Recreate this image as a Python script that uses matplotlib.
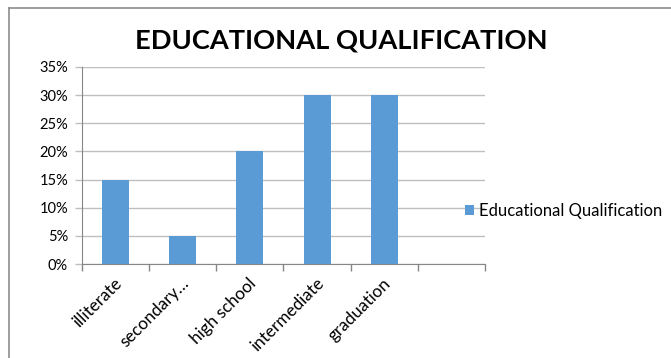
import matplotlib
matplotlib.use("Agg")
import matplotlib.pyplot as plt
import matplotlib.transforms as mtransforms
from matplotlib.lines import Line2D
from matplotlib.ticker import FuncFormatter, MultipleLocator

plt.rcParams['font.family'] = ['Lato', 'DejaVu Sans']

categories = ["illiterate", "secondary…", "high school", "intermediate", "graduation", ""]
values = [15, 5, 20, 30, 30, None]
series_name = "Educational Qualification"
title = "EDUCATIONAL QUALIFICATION"

W, H = 671, 358
fig = plt.figure(figsize=(W / 100, H / 100), dpi=100)
ax = fig.add_axes([82 / W, 1 - 264 / H, (485 - 82) / W, (264 - 67) / H])

bar_color = "#5b9bd5"
xs = list(range(len(categories)))
vals = [v if v is not None else 0 for v in values]
bars = ax.bar(xs, vals, width=0.4, color=bar_color, zorder=3, label=series_name)

ax.set_xlim(-0.5, len(categories) - 0.5)
ax.set_ylim(0, 35)
ax.yaxis.set_major_locator(MultipleLocator(5))
ax.yaxis.set_major_formatter(FuncFormatter(lambda v, p: f"{v:.0f}%"))
ax.yaxis.grid(True, color="#bfbfbf", linewidth=1, zorder=0)
ax.set_axisbelow(True)

ax.set_xticks([x - 0.5 for x in xs] + [len(categories) - 0.5])
ax.set_xticklabels([])
ax.set_xticks(xs, minor=True)
ax.set_xticklabels(categories, minor=True, rotation=45, ha="right", va="center",
                   rotation_mode="anchor", fontsize=12.3, color="#000000")
ax.tick_params(axis="x", which="minor", length=0, pad=12)
ax.tick_params(axis="x", which="major", length=5, color="#868686", width=1)
ax.tick_params(axis="y", length=5, color="#bfbfbf", width=1, labelsize=10.5, pad=5)

offset = mtransforms.ScaledTranslation(4 / 100, 0, fig.dpi_scale_trans)
for lbl in ax.xaxis.get_minorticklabels():
    lbl.set_transform(lbl.get_transform() + offset)

for s in ["top", "right"]:
    ax.spines[s].set_visible(False)
ax.spines["left"].set_color("#868686")
ax.spines["bottom"].set_color("#868686")

fig.text(341 / W, 1 - 40 / H, title, ha="center", va="center",
         fontsize=19.6, fontweight="bold", color="#000000")

fig.legend(handles=[bars], labels=[series_name], loc="center left",
           bbox_to_anchor=(465 / W, 1 - 211 / H), frameon=False,
           handlelength=0.55, handleheight=0.55, handletextpad=0.3,
           fontsize=12, borderaxespad=0, borderpad=0)

# outer chart frame (top and left edges visible)
fig.add_artist(Line2D([9 / W, 9 / W], [0, 1 - 8 / H], color="#8c8c8c", lw=1.2,
                      transform=fig.transFigure))
fig.add_artist(Line2D([9 / W, 1], [1 - 8 / H, 1 - 8 / H], color="#8c8c8c", lw=1.2,
                      transform=fig.transFigure))

fig.savefig("out.png", dpi=100)
